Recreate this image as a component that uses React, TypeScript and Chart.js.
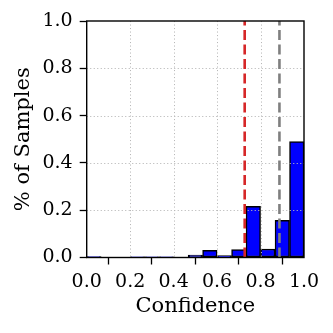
import React, { useEffect, useRef } from "react";
import { Chart, registerables } from "chart.js";

Chart.register(...registerables);

// Histogram bins (centres of 15 equal-width bins over [0, 1])
const binCenters = [
  0.0333, 0.1, 0.1667, 0.2333, 0.3, 0.3667, 0.4333, 0.5, 0.5667, 0.6333,
  0.7, 0.7667, 0.8333, 0.9, 0.9667,
];
const binValues = [
  0.004, 0, 0, 0.003, 0.003, 0.003, 0, 0.01, 0.03, 0.008, 0.033, 0.216,
  0.036, 0.157, 0.49,
];
const redLineX = 0.727;
const grayLineX = 0.887;
const gridTicks = [0.2, 0.4, 0.6, 0.8];

const FONT = "'DejaVu Serif', serif";

export default function App() {
  const ref = useRef<HTMLCanvasElement | null>(null);

  useEffect(() => {
    document.body.style.margin = "0";
    const canvas = ref.current;
    if (!canvas) return;

    const overlay = {
      id: "overlay",
      afterDatasetDraw(chart: any, args: any) {
        if (args.meta.type !== "bar") return;
        const { ctx, chartArea } = chart;
        const xs = chart.scales.x;
        const ys = chart.scales.y;
        ctx.save();
        ctx.strokeStyle = "#b8b8b8";
        ctx.lineWidth = 1;
        ctx.setLineDash([1.1, 2.4]);
        gridTicks.forEach((v) => {
          const px = Math.round(xs.getPixelForValue(v)) + 0.5;
          ctx.beginPath();
          ctx.moveTo(px, chartArea.top);
          ctx.lineTo(px, chartArea.bottom);
          ctx.stroke();
          const py = Math.round(ys.getPixelForValue(v)) + 0.5;
          ctx.beginPath();
          ctx.moveTo(chartArea.left, py);
          ctx.lineTo(chartArea.right, py);
          ctx.stroke();
        });
        ctx.restore();
      },
      afterDraw(chart: any) {
        const { ctx, chartArea } = chart;
        ctx.save();
        ctx.strokeStyle = "#000";
        ctx.lineWidth = 1.4;
        ctx.setLineDash([]);
        ctx.strokeRect(
          chartArea.left,
          chartArea.top,
          chartArea.right - chartArea.left,
          chartArea.bottom - chartArea.top
        );
        ctx.restore();
      },
    };

    const vline = (x: number) => [
      { x, y: 0 },
      { x, y: 1 },
    ];

    const chart = new Chart(canvas, {
      type: "bar",
      data: {
        datasets: [
          {
            type: "line",
            data: vline(redLineX),
            borderColor: "#d62728",
            borderWidth: 2.6,
            borderDash: [10, 4.5],
            pointRadius: 0,
            order: 0,
          } as any,
          {
            type: "line",
            data: vline(grayLineX),
            borderColor: "#7f7f7f",
            borderWidth: 2.6,
            borderDash: [10, 4.5],
            pointRadius: 0,
            order: 0,
          } as any,
          {
            type: "bar",
            data: binCenters.map((x, i) => ({ x, y: binValues[i] })),
            backgroundColor: "#0000ff",
            borderColor: "#000000",
            borderWidth: 1.5,
            borderSkipped: false,
            barPercentage: 1,
            categoryPercentage: 1,
            order: 1,
          } as any,
        ],
      },
      options: {
        animation: false,
        responsive: false,
        devicePixelRatio: 1,
        layout: { padding: { top: 21, right: 29, left: 0, bottom: 0 } },
        plugins: { legend: { display: false }, tooltip: { enabled: false } },
        scales: {
          x: {
            type: "linear",
            min: 0,
            max: 1,
            offset: false,
            border: { display: false },
            grid: {
              drawOnChartArea: false,
              drawTicks: true,
              tickLength: 7,
              tickColor: "#000",
              tickWidth: 1.3,
            },
            ticks: {
              stepSize: 0.2,
              autoSkip: false,
              maxRotation: 0,
              padding: 6,
              color: "#000",
              font: { family: FONT, size: 19 },
              callback: (v: any) => Number(v).toFixed(1),
            },
            title: {
              display: true,
              text: "Confidence",
              color: "#000",
              font: { family: FONT, size: 21 },
              padding: { top: 0, bottom: 14 },
            },
            afterFit: (s: any) => {
              s.height = 75.5;
            },
          },
          y: {
            type: "linear",
            min: 0,
            max: 1,
            border: { display: false },
            grid: {
              drawOnChartArea: false,
              drawTicks: true,
              tickLength: 7,
              tickColor: "#000",
              tickWidth: 1.3,
            },
            ticks: {
              stepSize: 0.2,
              padding: 7,
              color: "#000",
              font: { family: FONT, size: 19 },
              callback: (v: any) => Number(v).toFixed(1),
            },
            title: {
              display: true,
              text: "% of Samples",
              color: "#000",
              font: { family: FONT, size: 21 },
              padding: { top: 11, bottom: 0 },
            },
            afterFit: (s: any) => {
              s.width = 86.7;
            },
          },
        },
      },
      plugins: [overlay],
    });

    return () => chart.destroy();
  }, []);

  return <canvas ref={ref} width={333} height={333} style={{ display: "block" }} />;
}
